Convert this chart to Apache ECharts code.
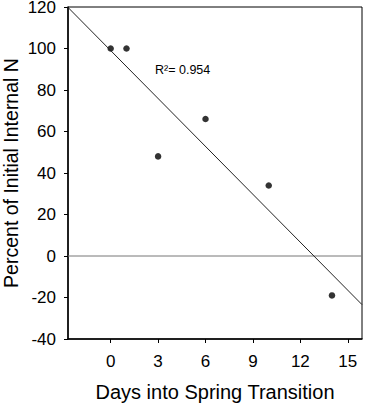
<!DOCTYPE html>
<html>
<head>
<meta charset="utf-8">
<script src="https://cdn.jsdelivr.net/npm/echarts@6/dist/echarts.min.js"></script>
<style>
  html, body { margin: 0; padding: 0; background: #fff; }
  #chart { width: 365px; height: 411px; }
</style>
</head>
<body>
<div id="chart"></div>
<script>
// observed points
const days = [0, 1, 3, 6, 10, 14]
const percentN = [100, 100, 48, 66, 34, -19]

// regression line
const fitSlope = -7.7
const fitIntercept = 99
const xRange = [-2.7, 15.9]

const xTicks = [0, 3, 6, 9, 12, 15]
const yTicks = [-40, -20, 0, 20, 40, 60, 80, 100, 120]

const fitLine = xRange.map(x => [x, fitIntercept + fitSlope * x])
const zeroLine = xRange.map(x => [x, 0])

const font = 'Liberation Sans, Arial, sans-serif'

const chart = echarts.init(document.getElementById('chart'), null, { renderer: 'svg' })

chart.setOption({
  animation: false,
  grid: {
    left: 68, right: 3, top: 7, bottom: 72,
    outerBoundsMode: 'none',
    show: true, borderColor: '#000', borderWidth: 1
  },
  xAxis: {
    type: 'value',
    min: xRange[0],
    max: xRange[1],
    name: 'Days into Spring Transition',
    nameLocation: 'middle',
    nameGap: 43,
    nameTextStyle: { fontFamily: font, fontSize: 20, color: '#000' },
    axisLine: { show: true, onZero: false, lineStyle: { color: '#000', width: 1.5 } },
    axisTick: { show: true, length: 4, lineStyle: { color: '#000' }, customValues: xTicks },
    axisLabel: { fontFamily: font, fontSize: 17, color: '#000', margin: 14, customValues: xTicks },
    splitLine: { show: false }
  },
  yAxis: {
    type: 'value',
    min: -40,
    max: 120,
    interval: 20,
    name: 'Percent of Initial Internal N',
    nameLocation: 'middle',
    nameGap: 47,
    nameMoveOverlap: false,
    nameTextStyle: { fontFamily: font, fontSize: 19.5, lineHeight: 19.5, color: '#000' },
    axisLine: { show: true, onZero: false, lineStyle: { color: '#000', width: 1.5 } },
    axisTick: { show: true, length: 4, lineStyle: { color: '#000' } },
    axisLabel: {
      fontFamily: font, fontSize: 17, lineHeight: 14, color: '#000', margin: 12,
      formatter: v => (yTicks.includes(v) ? String(v) : '')
    },
    splitLine: { show: false }
  },
  graphic: [{
    type: 'text',
    left: 155,
    top: 63,
    style: { text: 'R²= 0.954', font: '12.5px ' + font, fill: '#000' }
  }],
  series: [
    {
      type: 'line',
      data: zeroLine,
      symbol: 'none',
      lineStyle: { color: '#777', width: 1 },
      silent: true
    },
    {
      type: 'line',
      data: fitLine,
      symbol: 'none',
      lineStyle: { color: '#222', width: 1 },
      silent: true
    },
    {
      type: 'scatter',
      data: days.map((d, i) => [d, percentN[i]]),
      symbol: 'circle',
      symbolSize: 6.5,
      itemStyle: { color: '#000' }
    }
  ]
})
</script>
</body>
</html>
